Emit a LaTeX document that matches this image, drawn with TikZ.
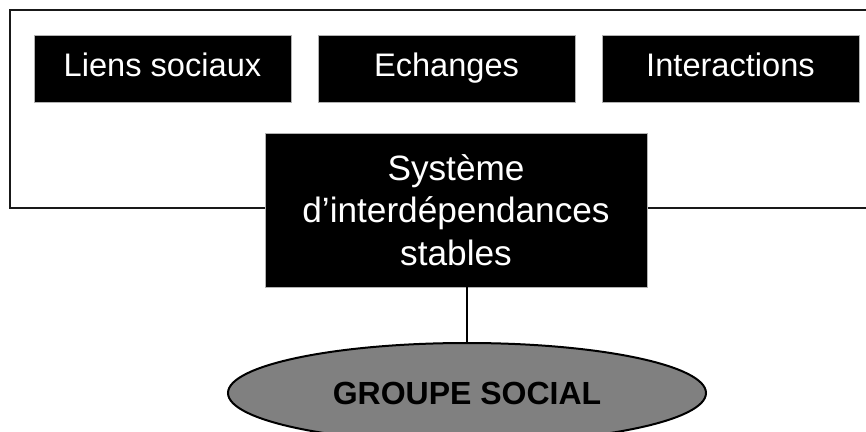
\documentclass[tikz,border=0pt]{standalone}
\usepackage{fontspec}
\setmainfont{Liberation Sans}
\usetikzlibrary{shapes.geometric}

\tikzset{
  boite/.style={fill=black, draw=gray!60, line width=0.4pt, text=white,
    inner sep=0pt, font=\fontsize{16.3}{20.8}\selectfont},
  haut/.style={boite, minimum width=128.5pt, minimum height=33.5pt,
    text height=11.8pt, text depth=3.5pt},
  groupe/.style={ellipse, fill=gray, draw=black, line width=1pt,
    inner sep=0pt, minimum width=239pt, minimum height=50pt,
    font=\fontsize{16}{19}\selectfont\bfseries}
}

\begin{document}
\begin{tikzpicture}[x=0.5pt, y=-0.5pt]

    \useasboundingbox (0, 0) rectangle (866, 432);

    % Cadre ouvert à droite
    \draw[line width=1pt, black!90] (866, 10) -- (10, 10) -- (10, 208) -- (866, 208);

    % Boîtes du haut
    \node[haut] (liens) at (162.5, 68.5) {Liens sociaux};
    \node[haut] (echanges) at (446.5, 68.5) {Echanges};
    \node[haut] (interactions) at (730.5, 68.5) {Interactions};

    % Système central
    \node[boite, minimum width=191pt, minimum height=77pt, align=center,
      font=\fontsize{17.6}{21.2}\selectfont] (systeme) at (456, 210)
      {Système\\d’interdépendances\\stables};

    % Groupe social
    \node[groupe] (social) at (467, 393) {GROUPE SOCIAL};

    % Liaison
    \draw[line width=0.75pt] (social.north) -- (social.north |- systeme.south);

\end{tikzpicture}
\end{document}
